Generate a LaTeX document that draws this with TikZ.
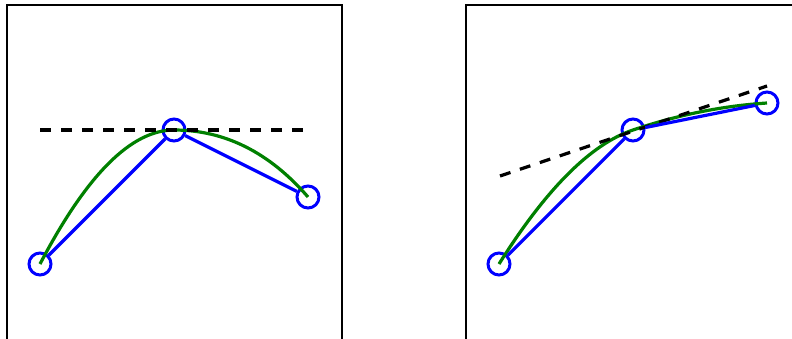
\documentclass[tikz,border=0pt]{standalone}
\usepackage{xcolor}
\usepackage{tikz}
\definecolor{ptblue}{RGB}{0,0,255}
\definecolor{crvgreen}{RGB}{0,128,0}

\begin{document}
\begin{tikzpicture}[x=1bp,y=-1bp,
 pt/.style={circle,draw=ptblue,line width=3bp,minimum size=22bp,inner sep=0pt},
 poly/.style={draw=ptblue,line width=3.2bp},
 crv/.style={draw=crvgreen,line width=3.2bp},
 tang/.style={draw=black,line width=3.2bp,dash pattern=on 11bp off 10bp},
 frame/.style={draw=black,line width=1.3bp}
]
\clip (0,0) rectangle (792,338);

% left panel: tangent horizontal
\draw[frame] (7,5) rectangle (342,420);
\node[pt] (a0) at (40,264) {};
\node[pt] (a1) at (174,130) {};
\node[pt] (a2) at (308,197) {};
\coordinate (ta) at (40,130); \coordinate (tb) at (308,130);
\draw[crv] (a0.center) .. controls (86.7,174.7) and (131.3,130) .. (a1.center)
 .. controls (224.7,130) and (269.3,152.3) .. (a2.center);
\draw[tang] (ta)--(tb);
\draw[poly] (a0)--(a1); \draw[poly] (a1)--(a2);

% right panel: tangent tilted
\draw[frame] (466,5) rectangle (860,420);
\node[pt] (b0) at (499,264) {};
\node[pt] (b1) at (633,130) {};
\node[pt] (b2) at (767,103) {};
\coordinate (tc) at (500,176); \coordinate (td) at (767,86);
\draw[crv] (b0.center) .. controls (546.3,188.7) and (591,144) .. (b1.center)
 .. controls (677.7,114.9) and (722.3,105.9) .. (b2.center);
\draw[tang] (tc)--(td);
\draw[poly] (b0)--(b1); \draw[poly] (b1)--(b2);
\end{tikzpicture}
\end{document}
